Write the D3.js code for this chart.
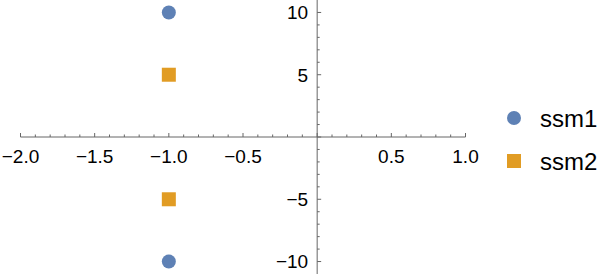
<!DOCTYPE html>
<html><head><meta charset="utf-8">
<script src="https://cdn.jsdelivr.net/npm/d3@7"></script>
<style>body{margin:0;background:#fff}svg{display:block}</style>
</head><body>
<script>
const seriesNames = ["ssm1", "ssm2"];
const ssm1 = [{x: -1, y: 10}, {x: -1, y: -10}];
const ssm2 = [{x: -1, y: 5}, {x: -1, y: -5}];
const xTicks = [-2, -1.5, -1, -0.5, 0.5, 1];
const yTicks = [-10, -5, 5, 10];
const colors = ["#5E81B5", "#E19C24"];

const W = 613, H = 279;
const svg = d3.select("body").append("svg").attr("width", W).attr("height", H);
const x = d3.scaleLinear().domain([-2, 1]).range([20.5, 465.5]);
const y = d3.scaleLinear().domain([-11, 11]).range([274, 0]);
const axisColor = "#666";
const font = "'Liberation Sans', Arial, sans-serif";

const g = svg.append("g");
// x axis
g.append("line").attr("x1", x(-2)).attr("x2", x(1)).attr("y1", y(0)).attr("y2", y(0))
  .attr("stroke", axisColor).attr("stroke-width", 1);
const xMinor = d3.range(-20, 11).map(d => d / 10);
g.selectAll(".xt").data(xMinor).enter().append("line")
  .attr("x1", d => x(d)).attr("x2", d => x(d))
  .attr("y1", y(0))
  .attr("y2", d => y(0) - (Math.abs(d * 2 - Math.round(d * 2)) < 1e-9 ? 4 : 2.5))
  .attr("stroke", axisColor).attr("stroke-width", 1);
g.selectAll(".xl").data(xTicks).enter().append("text")
  .attr("x", d => x(d)).attr("y", y(0) + 26)
  .attr("text-anchor", "middle").attr("font-family", font).attr("font-size", 19)
  .attr("fill", "#000")
  .text(d => (d < 0 ? "\u2212" : "") + Math.abs(d).toFixed(1));

// y axis
g.append("line").attr("x1", x(0)).attr("x2", x(0)).attr("y1", y(11)).attr("y2", y(-11))
  .attr("stroke", axisColor).attr("stroke-width", 1);
const yMinor = d3.range(-10, 11);
g.selectAll(".yt").data(yMinor).enter().append("line")
  .attr("y1", d => y(d)).attr("y2", d => y(d))
  .attr("x1", x(0))
  .attr("x2", d => x(0) + (d % 5 === 0 ? 4 : 2.5))
  .attr("stroke", axisColor).attr("stroke-width", 1);
g.selectAll(".yl").data(yTicks).enter().append("text")
  .attr("x", x(0) - 9).attr("y", d => y(d)).attr("dy", "0.36em")
  .attr("text-anchor", "end").attr("font-family", font).attr("font-size", 19)
  .attr("fill", "#000")
  .text(d => (d < 0 ? "\u2212" : "") + Math.abs(d));

// points
svg.selectAll(".p1").data(ssm1).enter().append("circle")
  .attr("cx", d => x(d.x)).attr("cy", d => y(d.y)).attr("r", 7)
  .attr("fill", colors[0]);
const s = 14;
svg.selectAll(".p2").data(ssm2).enter().append("rect")
  .attr("x", d => x(d.x) - s / 2).attr("y", d => y(d.y) - s / 2)
  .attr("width", s).attr("height", s).attr("fill", colors[1]);

// legend
const lg = svg.append("g");
const ly = [118, 161];
lg.append("circle").attr("cx", 514).attr("cy", ly[0]).attr("r", 7).attr("fill", colors[0]);
lg.append("rect").attr("x", 514 - 7).attr("y", ly[1] - 7).attr("width", 14).attr("height", 14).attr("fill", colors[1]);
lg.selectAll("text").data(seriesNames).enter().append("text")
  .attr("x", 540).attr("y", (d, i) => ly[i]).attr("dy", "0.36em")
  .attr("font-family", font).attr("font-size", 24).attr("fill", "#000")
  .text(d => d);
</script>
</body></html>
